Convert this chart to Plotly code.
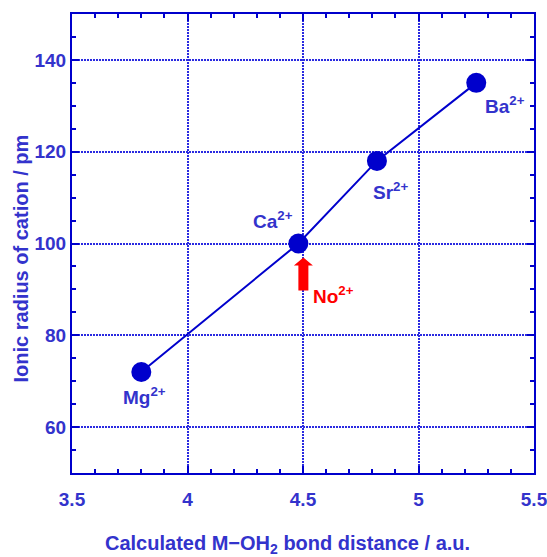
import plotly.graph_objects as go

bond_distance = [3.80, 4.48, 4.82, 5.25]
ionic_radius = [72, 100, 118, 135]
ion_labels = ["Mg<sup>2+</sup>", "Ca<sup>2+</sup>", "Sr<sup>2+</sup>", "Ba<sup>2+</sup>"]
label_shifts = [(3, -24), (-25, 24), (14, -30), (29, -22)]
no_label = "No<sup>2+</sup>"
no_x = 4.48
no_y = 100
x_title = "Calculated M−OH<sub>2</sub> bond distance / a.u."
y_title = "Ionic radius of cation / pm"

BLUE = "#0000cc"
GRID = "#2a2ae0"
TXT = "#3333cc"
FONT = "Liberation Sans, Arial, sans-serif"
FS = 19
FT = 20

fig = go.Figure()
fig.add_trace(go.Scatter(
    x=bond_distance, y=ionic_radius, mode="lines+markers",
    line=dict(color=BLUE, width=2),
    marker=dict(color=BLUE, size=20),
    showlegend=False,
))

for xv, yv, t, (dx, dy) in zip(bond_distance, ionic_radius, ion_labels, label_shifts):
    fig.add_annotation(x=xv, y=yv, text=t, showarrow=False, xshift=dx, yshift=dy,
                       font=dict(family=FONT, size=FS, color=TXT, weight="bold"))

fig.add_annotation(x=no_x, y=no_y, text=no_label, showarrow=False, xshift=35, yshift=-51,
                   font=dict(family=FONT, size=FS, color="#ff0000", weight="bold"))

# red arrow as pixel-sized path anchored at the No point
fig.add_shape(type="path", xref="x", yref="y", xsizemode="pixel", ysizemode="pixel",
              xanchor=no_x, yanchor=no_y,
              path="M 0 -47 L 10 -47 L 10 -22 L 14.5 -22 L 5 -14 L -4.5 -22 L 0 -22 Z",
              fillcolor="#ff0000", line=dict(width=0), layer="above")

# axis titles as annotations (positioned off-centre as in the reference)
fig.add_annotation(x=0.5, y=0, xref="paper", yref="paper", text=x_title, showarrow=False,
                   xanchor="center", yanchor="middle", xshift=-16, yshift=-71,
                   font=dict(family=FONT, size=FT, color=TXT, weight="bold"))
fig.add_annotation(x=0, y=0.5, xref="paper", yref="paper", text=y_title, showarrow=False,
                   textangle=-90, xanchor="center", yanchor="middle", xshift=-52, yshift=-15,
                   font=dict(family=FONT, size=FT, color=TXT, weight="bold"))

axis_common = dict(
    showline=True, linecolor=BLUE, linewidth=2, mirror="ticks",
    ticks="inside", ticklen=7, tickwidth=1.5, tickcolor=BLUE,
    showgrid=True, gridcolor=GRID, gridwidth=1.5, griddash="2px,1px",
    zeroline=False, automargin=False, ticklabeloverflow="allow",
    tickfont=dict(family=FONT, size=FS, color=TXT, weight="bold"),
)

fig.update_xaxes(**axis_common, range=[3.5, 5.5], dtick=0.5, tick0=3.5, ticklabelstandoff=8,
                 minor=dict(dtick=0.1, ticklen=4, tickcolor=BLUE, tickwidth=1.5, ticks="inside", showgrid=False))
fig.update_yaxes(**axis_common, range=[50, 150], dtick=20, tick0=60, ticklabelstandoff=0,
                 minor=dict(dtick=5, ticklen=4, tickcolor=BLUE, tickwidth=1.5, ticks="inside", showgrid=False))

fig.update_layout(
    width=547, height=557,
    margin=dict(l=72, r=13, t=14, b=84),
    plot_bgcolor="white", paper_bgcolor="white",
)

# remove the default page margin so the figure fills the window exactly
fig.write_html("out.html", config={"displayModeBar": False},
               post_script="document.body.style.margin='0';document.body.style.overflow='hidden';")
